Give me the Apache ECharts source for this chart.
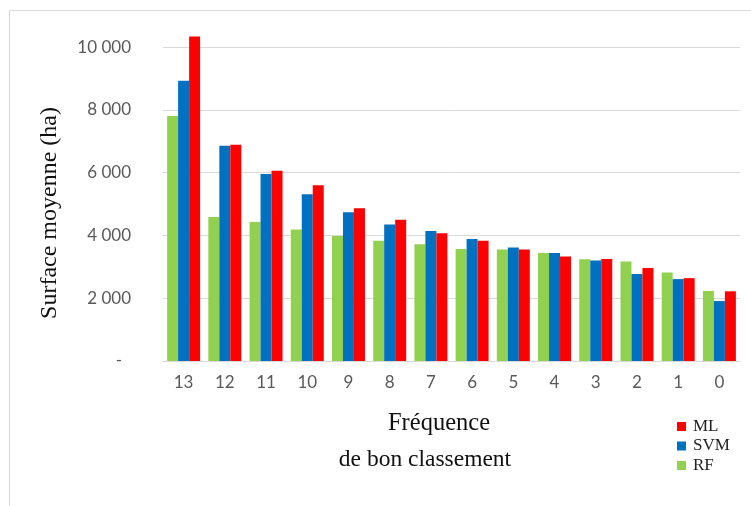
<!DOCTYPE html>
<html><head><meta charset="utf-8">
<script src="https://cdn.jsdelivr.net/npm/echarts@6/dist/echarts.min.js"></script>
<style>html,body{margin:0;padding:0;background:#fff}#c{width:751px;height:506px}</style>
</head><body><div id="c"></div>
<script>
var categories = ['13','12','11','10','9','8','7','6','5','4','3','2','1','0'];
var rfValues  = [7810, 4590, 4430, 4190, 3980, 3830, 3720, 3570, 3550, 3440, 3240, 3170, 2820, 2230];
var svmValues = [8930, 6860, 5960, 5310, 4740, 4350, 4140, 3890, 3620, 3440, 3200, 2770, 2610, 1910];
var mlValues  = [10340, 6890, 6060, 5600, 4870, 4500, 4070, 3830, 3550, 3330, 3250, 2960, 2640, 2220];
var seriesNames = ['RF','SVM','ML'];
var colors = ['#92d050','#0070c0','#ff0000'];

var chart = echarts.init(document.getElementById('c'), null, {renderer:'canvas'});
function fmt(v){
  if (v === 0) return '{d|-}';
  return String(v).replace(/\B(?=(\d{3})+(?!\d))/g, ' ');
}
var data = [rfValues, svmValues, mlValues];
var serif = 'Liberation Serif';
chart.setOption({
  animation:false,
  backgroundColor:'#fff',
  graphic:[
    {type:'rect', shape:{x:9.5,y:10.5,width:800,height:600}, style:{fill:'none', stroke:'#d9d9d9', lineWidth:1}, silent:true},
    {type:'text', x:50, y:213, rotation:Math.PI/2, silent:true,
      style:{text:'Surface moyenne (ha)', font:'24px "Liberation Serif"', fill:'#111', textAlign:'center', textVerticalAlign:'middle'}},
    {type:'text', x:439, y:424, silent:true,
      style:{text:'Fréquence', font:'24.5px "Liberation Serif"', fill:'#111', textAlign:'center', textVerticalAlign:'middle'}},
    {type:'text', x:425, y:460, silent:true,
      style:{text:'de bon classement', font:'23.5px "Liberation Serif"', fill:'#111', textAlign:'center', textVerticalAlign:'middle'}}
  ],
  legend:{
    data:['ML','SVM','RF'], orient:'vertical', left:672, top:413,
    itemWidth:9, itemHeight:9, itemGap:2.5, icon:'rect',
    textStyle:{fontFamily:serif, fontSize:17, color:'#222', padding:[0,0,0,2]}
  },
  grid:{left:163, right:11, top:36.5, bottom:145, containLabel:false},
  xAxis:{
    type:'category', data:categories,
    axisLine:{lineStyle:{color:'#d9d9d9'}}, axisTick:{show:false},
    axisLabel:{color:'#595959', fontFamily:'Lato', fontSize:17, margin:13}
  },
  yAxis:{
    type:'value', min:0, max:10340, interval:2000,
    axisLine:{show:false}, axisTick:{show:false},
    splitLine:{lineStyle:{color:'#d9d9d9'}, showMaxLine:false},
    axisLabel:{color:'#595959', fontFamily:'Lato', fontSize:17, margin:32, showMaxLabel:false,
      formatter:fmt, rich:{d:{color:'#595959', fontSize:17, padding:[0,9,0,0]}}}
  },
  series: seriesNames.map(function(n,i){
    return {name:n, type:'bar', data:data[i], barGap:'0%', barCategoryGap:'20%',
      itemStyle:{color:colors[i]}};
  })
});
</script></body></html>
